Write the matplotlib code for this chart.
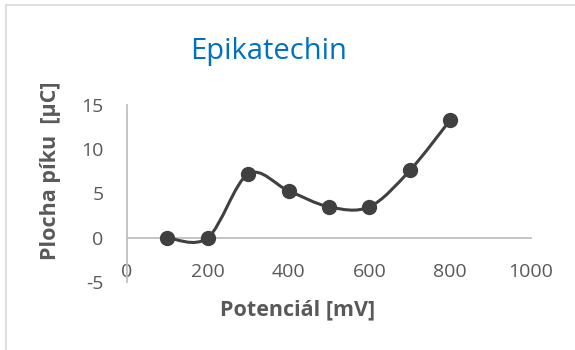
import numpy as np
import matplotlib.pyplot as plt
from matplotlib.path import Path
from matplotlib.patches import PathPatch, Rectangle

potencial = [100, 200, 300, 400, 500, 600, 700, 800]
plocha = [0.0, 0.0, 7.2, 5.3, 3.5, 3.5, 7.6, 13.3]
x_ticks = [0, 200, 400, 600, 800, 1000]
y_ticks = [-5, 0, 5, 10, 15]

plt.rcParams['font.family'] = ['Open Sans', 'DejaVu Sans']
plt.rcParams['axes.unicode_minus'] = False
grey = '#595959'
line_col = '#404040'

fig = plt.figure(figsize=(5.75, 3.5), dpi=100)
fig.patches.append(Rectangle((6 / 575, -0.1), 1.2, 1 - 5 / 350 + 0.1,
                             transform=fig.transFigure, fill=False,
                             edgecolor='#D9D9D9', lw=1.2))
ax = fig.add_axes([127 / 575, 1 - 282 / 350, 404 / 575, 177 / 350])

# smoothed line like Excel (Catmull-Rom as cubic Bezier)
pts = np.column_stack([potencial, plocha])
verts = [pts[0]]
codes = [Path.MOVETO]
n = len(pts)
for i in range(n - 1):
    p0 = pts[max(i - 1, 0)]
    p1 = pts[i]
    p2 = pts[i + 1]
    p3 = pts[min(i + 2, n - 1)]
    c1 = p1 + (p2 - p0) / 6
    c2 = p2 - (p3 - p1) / 6
    verts += [c1, c2, p2]
    codes += [Path.CURVE4] * 3
ax.add_patch(PathPatch(Path(verts, codes), fill=False, edgecolor=line_col,
                       lw=2.2, zorder=3))
ax.plot(potencial, plocha, 'o', color=line_col, ms=10, zorder=4)

ax.set_xlim(0, 1000)
ax.set_ylim(-5, 15)
ax.set_xticks(x_ticks)
ax.set_yticks(y_ticks)
ax.spines['top'].set_visible(False)
ax.spines['right'].set_visible(False)
ax.spines['bottom'].set_position(('data', 0))
for s in ['left', 'bottom']:
    ax.spines[s].set_color('#BFBFBF')
    ax.spines[s].set_linewidth(1.3)
ax.tick_params(axis='both', length=0, labelsize=14, labelcolor=grey)
ax.tick_params(axis='x', pad=18)
ax.tick_params(axis='y', pad=17)

fig.text(269 / 575, 1 - 52 / 350, 'Epikatechin', color='#0070C0', fontsize=21,
         ha='center', va='center')
fig.text(298 / 575, 1 - 310 / 350, 'Potenciál [mV]', color=grey,
         fontsize=15.5, fontweight='bold', ha='center', va='center')
fig.text(51 / 575, 1 - 171 / 350, 'Plocha píku  [µC]', color=grey,
         fontsize=15.5, fontweight='bold', ha='center', va='center',
         rotation=90)

fig.savefig('out.png', dpi=100)
